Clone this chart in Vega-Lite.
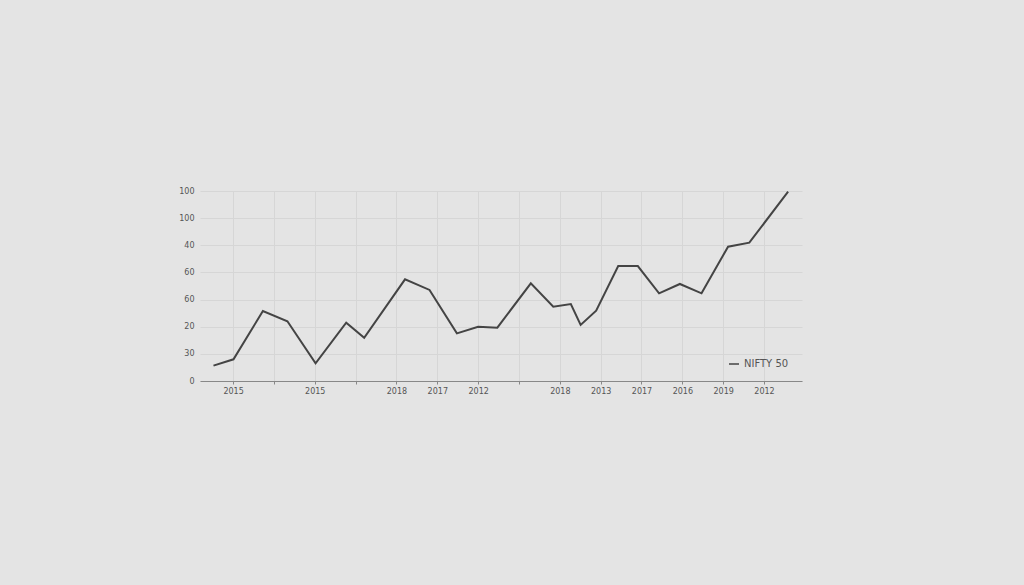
{
  "$schema": "https://vega.github.io/schema/vega-lite/v6.json",
  "autosize": "none",
  "width": 602,
  "height": 190,
  "padding": {"left": 200, "top": 191, "right": 222, "bottom": 204},
  "background": "#e4e4e4",
  "config": {
    "view": {"stroke": null},
    "font": "DejaVu Sans",
    "axis": {"labelFont": "DejaVu Sans", "labelFontSize": 8, "labelColor": "#555555", "gridColor": "#d6d6d6", "gridWidth": 1, "domainColor": "#888888", "tickColor": "#888888"}
  },
  "data": {
    "values": [
      {"t": -0.48, "v": 11.3, "s": "NIFTY 50"},
      {"t": 0.01, "v": 16.0, "s": "NIFTY 50"},
      {"t": 0.73, "v": 51.6, "s": "NIFTY 50"},
      {"t": 1.33, "v": 44.0, "s": "NIFTY 50"},
      {"t": 2.02, "v": 13.0, "s": "NIFTY 50"},
      {"t": 2.77, "v": 43.0, "s": "NIFTY 50"},
      {"t": 3.21, "v": 31.9, "s": "NIFTY 50"},
      {"t": 4.21, "v": 74.9, "s": "NIFTY 50"},
      {"t": 4.81, "v": 67.1, "s": "NIFTY 50"},
      {"t": 5.48, "v": 35.1, "s": "NIFTY 50"},
      {"t": 6.0, "v": 40.0, "s": "NIFTY 50"},
      {"t": 6.47, "v": 39.3, "s": "NIFTY 50"},
      {"t": 7.29, "v": 72.0, "s": "NIFTY 50"},
      {"t": 7.84, "v": 54.7, "s": "NIFTY 50"},
      {"t": 8.27, "v": 56.7, "s": "NIFTY 50"},
      {"t": 8.51, "v": 41.3, "s": "NIFTY 50"},
      {"t": 8.89, "v": 51.8, "s": "NIFTY 50"},
      {"t": 9.43, "v": 84.7, "s": "NIFTY 50"},
      {"t": 9.91, "v": 84.7, "s": "NIFTY 50"},
      {"t": 10.43, "v": 64.6, "s": "NIFTY 50"},
      {"t": 10.94, "v": 71.5, "s": "NIFTY 50"},
      {"t": 11.47, "v": 64.6, "s": "NIFTY 50"},
      {"t": 12.12, "v": 99.0, "s": "NIFTY 50"},
      {"t": 12.64, "v": 101.9, "s": "NIFTY 50"},
      {"t": 13.59, "v": 139.5, "s": "NIFTY 50"}
    ]
  },
  "mark": {"type": "line", "strokeWidth": 2, "strokeJoin": "miter"},
  "encoding": {
    "x": {
      "field": "t", "type": "quantitative",
      "scale": {"domain": [-0.81, 13.93], "nice": false, "zero": false},
      "axis": {
        "title": null,
        "values": [0, 1, 2, 3, 4, 5, 6, 7, 8, 9, 10, 11, 12, 13],
        "labelExpr": "['2015','','2015','','2018','2017','2012','','2018','2013','2017','2016','2019','2012'][datum.value]",
        "tickSize": 3,
        "labelPadding": 3,
        "labelFontSize": 8
      }
    },
    "y": {
      "field": "v", "type": "quantitative",
      "scale": {"domain": [0, 140], "nice": false},
      "axis": {
        "title": null,
        "values": [0, 20, 40, 60, 80, 100, 120, 140],
        "labelExpr": "['0','30','20','60','60','40','100','100'][datum.value/20]",
        "domain": false,
        "ticks": false,
        "labelPadding": 6
      }
    },
    "color": {
      "field": "s", "type": "nominal",
      "scale": {"range": ["#444444"]},
      "legend": {
        "title": null,
        "orient": "none",
        "legendX": 528,
        "legendY": 167,
        "symbolType": "stroke",
        "symbolSize": 100,
        "symbolStrokeWidth": 1.5,
        "labelFontSize": 10,
        "labelColor": "#555555",
        "labelFont": "DejaVu Sans"
      }
    }
  }
}
